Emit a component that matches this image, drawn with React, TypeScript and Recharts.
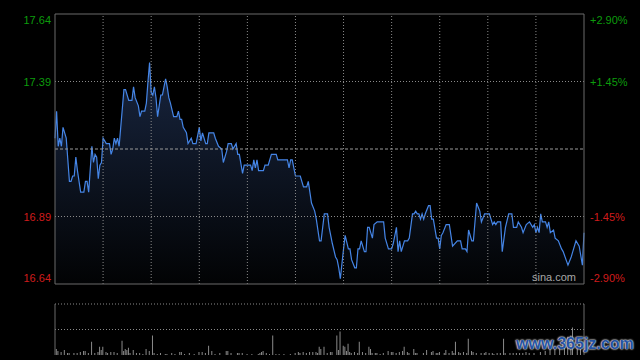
import React from 'react';
import {
  ComposedChart, Area, XAxis, YAxis, ReferenceLine, BarChart, Bar,
} from 'recharts';

// minutes since open (HK session: 330 min, 11 half-hour columns)
const times = [
  0, 1, 2, 3, 4, 5, 7, 9, 10, 11,
  12, 13, 14, 16, 18, 19, 20, 21, 23, 24,
  25, 26, 27, 28, 29, 30, 31, 32, 34, 35,
  36, 37, 38, 39, 40, 43, 44, 46, 48, 49,
  50, 52, 53, 54, 56, 57, 58, 59, 60, 61,
  62, 63, 64, 65, 66, 67, 68, 69, 70, 71,
  72, 74, 76, 77, 78, 79, 80, 82, 83, 85,
  86, 88, 90, 91, 92, 94, 95, 96, 99, 100,
  102, 104, 105, 107, 108, 110, 111, 113, 114, 115,
  117, 118, 122, 123, 124, 125, 126, 127, 130, 131,
  133, 135, 138, 139, 145, 146, 147, 148, 150, 153,
  155, 157, 158, 159, 160, 162, 163, 165, 166, 168,
  170, 171, 173, 175, 176, 177, 178, 180, 181, 183,
  184, 185, 187, 188, 189, 190, 191, 193, 194, 195,
  196, 198, 199, 201, 205, 206, 208, 210, 211, 213,
  214, 215, 216, 218, 220, 221, 223, 224, 225, 226,
  227, 228, 229, 230, 231, 233, 234, 235, 236, 238,
  239, 240, 241, 242, 244, 246, 248, 251, 253, 254,
  256, 257, 258, 260, 261, 263, 265, 266, 268, 271,
  273, 274, 275, 276, 278, 279, 281, 283, 285, 286,
  288, 289, 291, 292, 294, 296, 298, 299, 300, 301,
  302, 303, 304, 306, 307, 308, 309, 311, 312, 314,
  316, 317, 320, 322, 323, 325, 327, 329, 330,
];

const prices = [
  17.18, 17.28, 17.15, 17.18, 17.15, 17.22, 17.18, 17.02, 17.02, 17.04,
  17.04, 17.11, 17.06, 16.98, 16.98, 17.02, 17.02, 16.98, 17.15, 17.09,
  17.12, 17.11, 17.03, 17.08, 17.09, 17.18, 17.17, 17.16, 17.16, 17.12,
  17.14, 17.18, 17.16, 17.18, 17.15, 17.36, 17.36, 17.32, 17.32, 17.37,
  17.33, 17.30, 17.26, 17.28, 17.28, 17.31, 17.39, 17.46, 17.35, 17.34,
  17.37, 17.33, 17.26, 17.30, 17.34, 17.34, 17.37, 17.40, 17.37, 17.33,
  17.31, 17.26, 17.26, 17.28, 17.25, 17.25, 17.22, 17.20, 17.16, 17.18,
  17.16, 17.16, 17.22, 17.17, 17.20, 17.16, 17.16, 17.20, 17.20, 17.18,
  17.15, 17.14, 17.09, 17.13, 17.16, 17.16, 17.14, 17.16, 17.12, 17.12,
  17.05, 17.08, 17.08, 17.06, 17.10, 17.07, 17.10, 17.06, 17.06, 17.08,
  17.08, 17.12, 17.12, 17.10, 17.10, 17.07, 17.10, 17.10, 17.04, 17.04,
  17.00, 17.00, 17.02, 16.98, 16.94, 16.91, 16.88, 16.80, 16.80, 16.90,
  16.90, 16.85, 16.79, 16.74, 16.73, 16.70, 16.66, 16.77, 16.82, 16.77,
  16.77, 16.73, 16.70, 16.70, 16.77, 16.77, 16.80, 16.76, 16.76, 16.85,
  16.85, 16.81, 16.86, 16.87, 16.87, 16.81, 16.77, 16.77, 16.79, 16.85,
  16.76, 16.80, 16.76, 16.80, 16.80, 16.81, 16.90, 16.90, 16.91, 16.90,
  16.90, 16.88, 16.90, 16.88, 16.90, 16.93, 16.93, 16.88, 16.88, 16.81,
  16.81, 16.77, 16.82, 16.83, 16.86, 16.86, 16.78, 16.80, 16.80, 16.77,
  16.77, 16.76, 16.84, 16.80, 16.80, 16.94, 16.91, 16.87, 16.90, 16.90,
  16.86, 16.87, 16.86, 16.87, 16.87, 16.76, 16.85, 16.90, 16.90, 16.85,
  16.85, 16.87, 16.85, 16.83, 16.86, 16.87, 16.85, 16.86, 16.83, 16.85,
  16.83, 16.90, 16.87, 16.87, 16.85, 16.87, 16.83, 16.84, 16.81, 16.80,
  16.77, 16.76, 16.71, 16.74, 16.76, 16.80, 16.78, 16.71, 16.83,
];

const volTimes = [
  1, 2, 4, 6, 8, 9, 12, 14, 16, 18,
  19, 21, 23, 25, 27, 28, 29, 30, 32, 33,
  35, 37, 39, 42, 43, 44, 45, 46, 47, 49,
  51, 53, 55, 57, 59, 61, 62, 64, 66, 69,
  70, 73, 75, 78, 79, 81, 84, 87, 90, 92,
  94, 96, 98, 100, 103, 107, 108, 110, 114, 115,
  117, 120, 123, 127, 128, 129, 130, 132, 134, 136,
  138, 140, 143, 147, 150, 152, 153, 155, 157, 159,
  161, 163, 164, 165, 166, 168, 170, 172, 173, 176,
  177, 178, 180, 181, 182, 183, 184, 185, 187, 189,
  190, 192, 194, 196, 197, 198, 200, 201, 203, 205,
  208, 210, 211, 213, 215, 217, 218, 220, 221, 224,
  225, 226, 230, 232, 235, 236, 238, 239, 240, 243,
  244, 246, 248, 249, 250, 252, 253, 255, 257, 258,
  260, 261, 263, 266, 268, 269, 271, 273, 274, 276,
  278, 280, 281, 284, 286, 288, 290, 292, 294, 296,
  299, 303, 306, 309, 312, 315, 318, 320, 322, 323,
  326, 328,
];

const volumes = [
  60, 40, 30, 50, 20, 20, 20, 20, 30, 40,
  40, 20, 130, 20, 30, 80, 50, 80, 30, 20,
  30, 30, 20, 140, 40, 60, 50, 70, 20, 50,
  20, 20, 10, 60, 40, 190, 20, 10, 20, 10,
  10, 20, 10, 30, 30, 10, 20, 10, 30, 30,
  20, 90, 40, 10, 20, 40, 40, 20, 20, 20,
  20, 10, 10, 10, 20, 30, 40, 20, 10, 190,
  10, 10, 10, 10, 20, 30, 20, 30, 20, 30,
  30, 30, 20, 80, 60, 80, 20, 30, 30, 190,
  50, 230, 90, 80, 40, 110, 30, 20, 30, 20,
  130, 30, 20, 80, 60, 20, 20, 20, 10, 20,
  40, 30, 30, 20, 30, 40, 80, 30, 20, 60,
  20, 20, 20, 50, 30, 40, 20, 20, 30, 20,
  50, 20, 40, 20, 130, 30, 20, 30, 20, 160,
  40, 30, 20, 20, 20, 30, 20, 20, 10, 20,
  20, 160, 20, 20, 20, 20, 20, 20, 30, 20,
  20, 30, 40, 60, 80, 90, 140, 180, 190, 270,
  110, 90,
];

const PREV_CLOSE = 17.14;
const priceTicks = [16.64, 16.89, 17.39, 17.64];
const pctTicks = [-2.9, -1.45, 1.45, 2.9];
const columnTicks = [30, 60, 90, 120, 150, 180, 210, 240, 270, 300];

const GREEN = '#0c9c0c';
const RED = '#d01c1c';
const GRID = '#8a8a8a';
const BORDER = '#6a6a6a';
const FONT = '"Liberation Sans", Arial, sans-serif';

const priceData = times.map((t, i) => ({ t, price: prices[i] }));
const volData = volTimes.map((t, i) => ({ t, vol: volumes[i] }));

const PriceTick = ({ x, y, payload }: any) => {
  const v = payload.value;
  const shift = v === 17.64 ? 6 : v === 16.64 ? -6 : 0;
  return (
    <text x={x} y={y + shift} dy={4} textAnchor="end" fontSize={11} fontFamily={FONT}
      fill={v > PREV_CLOSE ? GREEN : RED}>
      {v.toFixed(2)}
    </text>
  );
};

const PctTick = ({ x, y, payload }: any) => {
  const v = payload.value;
  const shift = v === 2.9 ? 6 : v === -2.9 ? -6 : 0;
  return (
    <text x={x} y={y + shift} dy={4} textAnchor="start" fontSize={11} fontFamily={FONT}
      fill={v > 0 ? GREEN : RED}>
      {(v > 0 ? '+' : '') + v.toFixed(2) + '%'}
    </text>
  );
};

export default function App() {
  return (
    <div style={{ position: 'absolute', left: 0, top: 0, width: 640, height: 360, background: '#000', overflow: 'hidden', fontFamily: FONT }}>
      <div style={{ position: 'absolute', left: 0, top: 0 }}>
        <ComposedChart width={640} height={300} data={priceData} margin={{ top: 14, right: 0, bottom: 16, left: 0 }}>
          <defs>
            <linearGradient id="priceFill" x1="0" y1="0" x2="0" y2="1">
              <stop offset="0%" stopColor="#18253f" />
              <stop offset="100%" stopColor="#020304" />
            </linearGradient>
          </defs>
          <XAxis dataKey="t" type="number" domain={[0, 330]} hide />
          <YAxis yAxisId="p" orientation="left" width={55} domain={[16.64, 17.64]} ticks={priceTicks}
            axisLine={false} tickLine={false} tickSize={0} tickMargin={4} tick={<PriceTick />} interval={0} />
          <YAxis yAxisId="pct" orientation="right" width={56} domain={[-2.9, 2.9]} ticks={pctTicks}
            axisLine={false} tickLine={false} tickSize={0} tickMargin={6} tick={<PctTick />} interval={0} allowDataOverflow />
          <Area yAxisId="p" type="linear" dataKey="price" stroke="#4585e6" strokeWidth={1.2}
            fill="url(#priceFill)" fillOpacity={1} isAnimationActive={false} dot={false} activeDot={false} />
          {columnTicks.map((c) => (
            <ReferenceLine key={c} yAxisId="p" x={c} stroke={GRID} strokeDasharray="1 2" />
          ))}
          <ReferenceLine yAxisId="p" y={17.39} stroke={GRID} strokeDasharray="1 2" />
          <ReferenceLine yAxisId="p" y={16.89} stroke={GRID} strokeDasharray="1 2" />
          <ReferenceLine yAxisId="p" y={PREV_CLOSE} stroke="#9a9a9a" strokeDasharray="3 2" />
          <ReferenceLine yAxisId="p" y={17.64} stroke={BORDER} />
          <ReferenceLine yAxisId="p" y={16.64} stroke={BORDER} />
          <ReferenceLine yAxisId="p" x={0} stroke={BORDER} />
          <ReferenceLine yAxisId="p" x={330} stroke={BORDER} />
        </ComposedChart>
      </div>
      <div style={{ position: 'absolute', left: 532, top: 271, fontSize: 11, color: '#a8a8a8' }}>sina.com</div>
      <div style={{ position: 'absolute', left: 0, top: 290 }}>
        <BarChart width={640} height={70} data={volData} margin={{ top: 14, right: 56, bottom: 5, left: 55 }}>
          <XAxis dataKey="t" type="number" domain={[0, 330]} hide />
          <YAxis domain={[0, 500]} hide />
          <ReferenceLine y={500} stroke={GRID} strokeDasharray="1 2" />
          <ReferenceLine y={250} stroke={GRID} strokeDasharray="1 2" />
          <ReferenceLine x={0} stroke={BORDER} />
          <ReferenceLine x={330} stroke={BORDER} />
          <Bar dataKey="vol" fill="#8a8a8a" barSize={1} isAnimationActive={false} />
        </BarChart>
      </div>
      <div style={{
        position: 'absolute', left: 516, top: 335, fontSize: 16, fontWeight: 'bold', color: '#2553a3',
        textShadow: '0 0 2px #d8d8d8, 0 0 2px #d8d8d8, 0 0 1px #ffffff',
      }}>www.365jz.com</div>
    </div>
  );
}
